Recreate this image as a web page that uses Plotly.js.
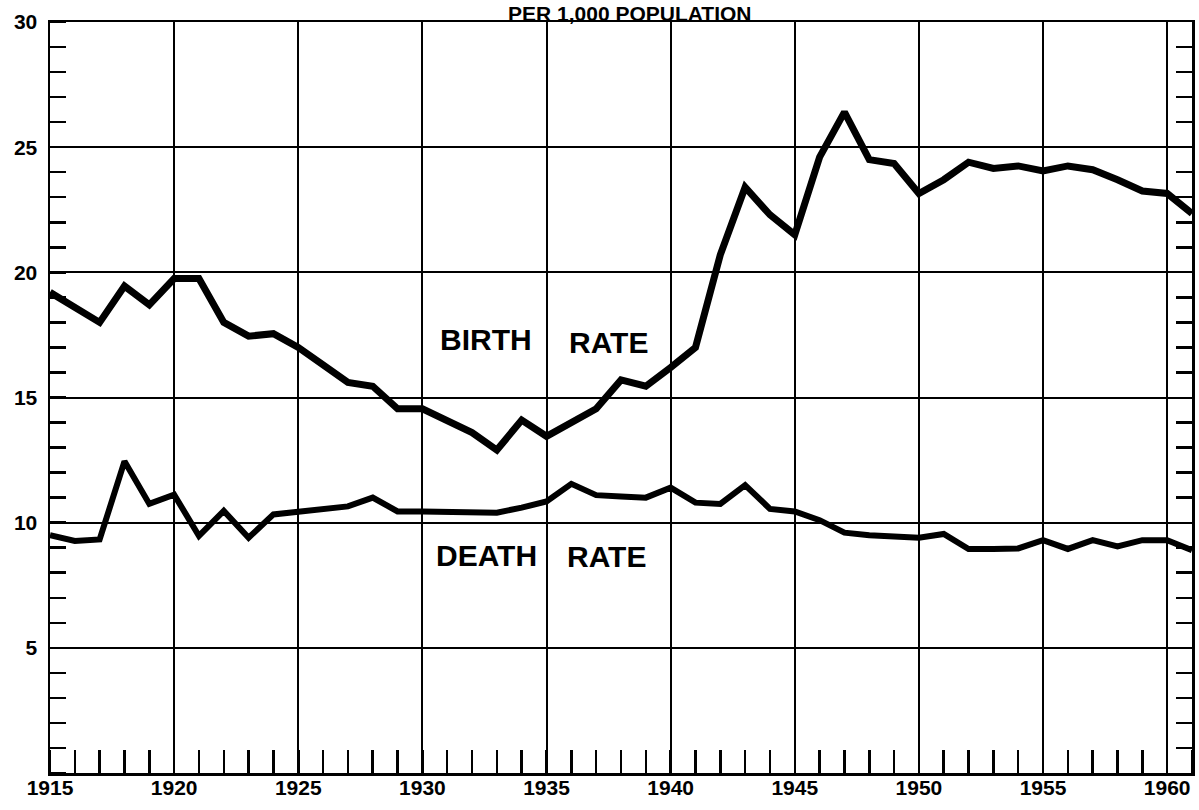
<!DOCTYPE html>
<html>
<head>
<meta charset="utf-8">
<script src="https://cdn.plot.ly/plotly-3.0.1.min.js"></script>
<style>
  html, body { margin: 0; padding: 0; background: #ffffff; }
  #chart { width: 1199px; height: 810px; }
</style>
</head>
<body>
<div id="chart"></div>
<script>
const years = [1915,1916,1917,1918,1919,1920,1921,1922,1923,1924,1925,1926,1927,1928,1929,1930,
  1931,1932,1933,1934,1935,1936,1937,1938,1939,1940,1941,1942,1943,1944,1945,1946,1947,1948,1949,1950,
  1951,1952,1953,1954,1955,1956,1957,1958,1959,1960,1961];

const birthRate = [19.2,18.6,18.0,19.45,18.7,19.75,19.75,18.0,17.45,17.55,17.0,16.3,15.6,15.45,14.55,14.55,
  14.1,13.6,12.9,14.1,13.45,14.0,14.55,15.7,15.45,16.2,17.0,20.7,23.4,22.3,21.5,24.6,26.4,24.5,24.35,23.15,
  23.7,24.4,24.15,24.25,24.05,24.25,24.1,23.7,23.25,23.15,22.35];

const deathRate = [9.5,9.27,9.33,12.45,10.75,11.12,9.47,10.47,9.4,10.33,10.44,10.55,10.65,11.0,10.45,10.45,
  10.43,10.42,10.4,10.6,10.85,11.55,11.1,11.05,11.0,11.4,10.8,10.75,11.5,10.55,10.45,10.1,9.6,9.5,9.45,9.4,
  9.55,8.95,8.95,8.97,9.3,8.95,9.3,9.05,9.3,9.3,8.9];

const xTickVals = [1915,1920,1925,1930,1935,1940,1945,1950,1955,1960];
const xTickText = ['1915','1920','1925','1930','1935','1940','1945','1950','1955','1960'];
const yTickVals = [5,10,15,20,25,30];
const yTickText = ['5','10','15','20','25','30'];

const titleText = 'PER 1,000 POPULATION';
const seriesLabels = [
  {text:'BIRTH', x:1932.56, y:17.3},
  {text:'RATE',  x:1937.5,  y:17.2},
  {text:'DEATH', x:1932.6,  y:8.67},
  {text:'RATE',  x:1937.4,  y:8.63}
];

const traces = [
  {x: years, y: birthRate, type:'scatter', mode:'lines', name:'Birth rate',
   line:{color:'#000', width:7}, hoverinfo:'x+y'},
  {x: years, y: deathRate, type:'scatter', mode:'lines', name:'Death rate',
   line:{color:'#000', width:6}, hoverinfo:'x+y'},
  {x: [], y: [], type:'scatter', mode:'lines', yaxis:'y2', showlegend:false, hoverinfo:'skip'}
];

const tickFont = {family:'Liberation Sans, Arial, sans-serif', size:21, color:'#000', weight:'bold'};
const labelFont = {family:'Liberation Sans, Arial, sans-serif', size:30, color:'#000', weight:'bold'};

const annotations = seriesLabels.map(l => ({
  text: l.text, x: l.x, y: l.y, xref:'x', yref:'y', showarrow:false,
  xanchor:'center', yanchor:'middle', font: labelFont
}));
annotations.push({
  text: titleText, xref:'paper', yref:'paper', x:(629.5-50)/1142, y:1,
  xanchor:'center', yanchor:'top', yshift:22, showarrow:false,
  font:{family:'Liberation Sans, Arial, sans-serif', size:21, color:'#000', weight:'bold'}
});

const layout = {
  width:1199, height:810,
  margin:{l:50, r:7, t:22, b:37, pad:0},
  paper_bgcolor:'#ffffff', plot_bgcolor:'#ffffff',
  showlegend:false,
  xaxis:{
    range:[1915,1961], showline:true, linecolor:'#000', linewidth:2.5, mirror:true,
    tickmode:'array', tickvals:xTickVals, ticktext:xTickText, ticks:'',
    showgrid:true, gridcolor:'#000', gridwidth:2, zeroline:false,
    tickfont:tickFont, ticklabelstandoff:-6,
    minor:{tickmode:'linear', tick0:1915, dtick:1, ticks:'inside', ticklen:23,
           tickwidth:2.5, tickcolor:'#000', showgrid:false}
  },
  yaxis:{
    range:[0,30], showline:true, linecolor:'#000', linewidth:2.5, mirror:true,
    tickmode:'array', tickvals:yTickVals, ticktext:yTickText, ticks:'',
    showgrid:true, gridcolor:'#000', gridwidth:2, zeroline:false,
    tickfont:tickFont, ticklabelstandoff:6,
    minor:{tickmode:'linear', tick0:0, dtick:1, ticks:'inside', ticklen:16,
           tickwidth:2.5, tickcolor:'#000', showgrid:false}
  },
  yaxis2:{
    range:[0,30], overlaying:'y', side:'right', anchor:'x',
    showline:false, showgrid:false, zeroline:false, showticklabels:false, ticks:'',
    minor:{tickmode:'linear', tick0:0, dtick:1, ticks:'inside', ticklen:16,
           tickwidth:2.5, tickcolor:'#000', showgrid:false}
  },
  annotations: annotations
};

Plotly.newPlot('chart', traces, layout, {displayModeBar:false, staticPlot:true});
</script>
</body>
</html>
